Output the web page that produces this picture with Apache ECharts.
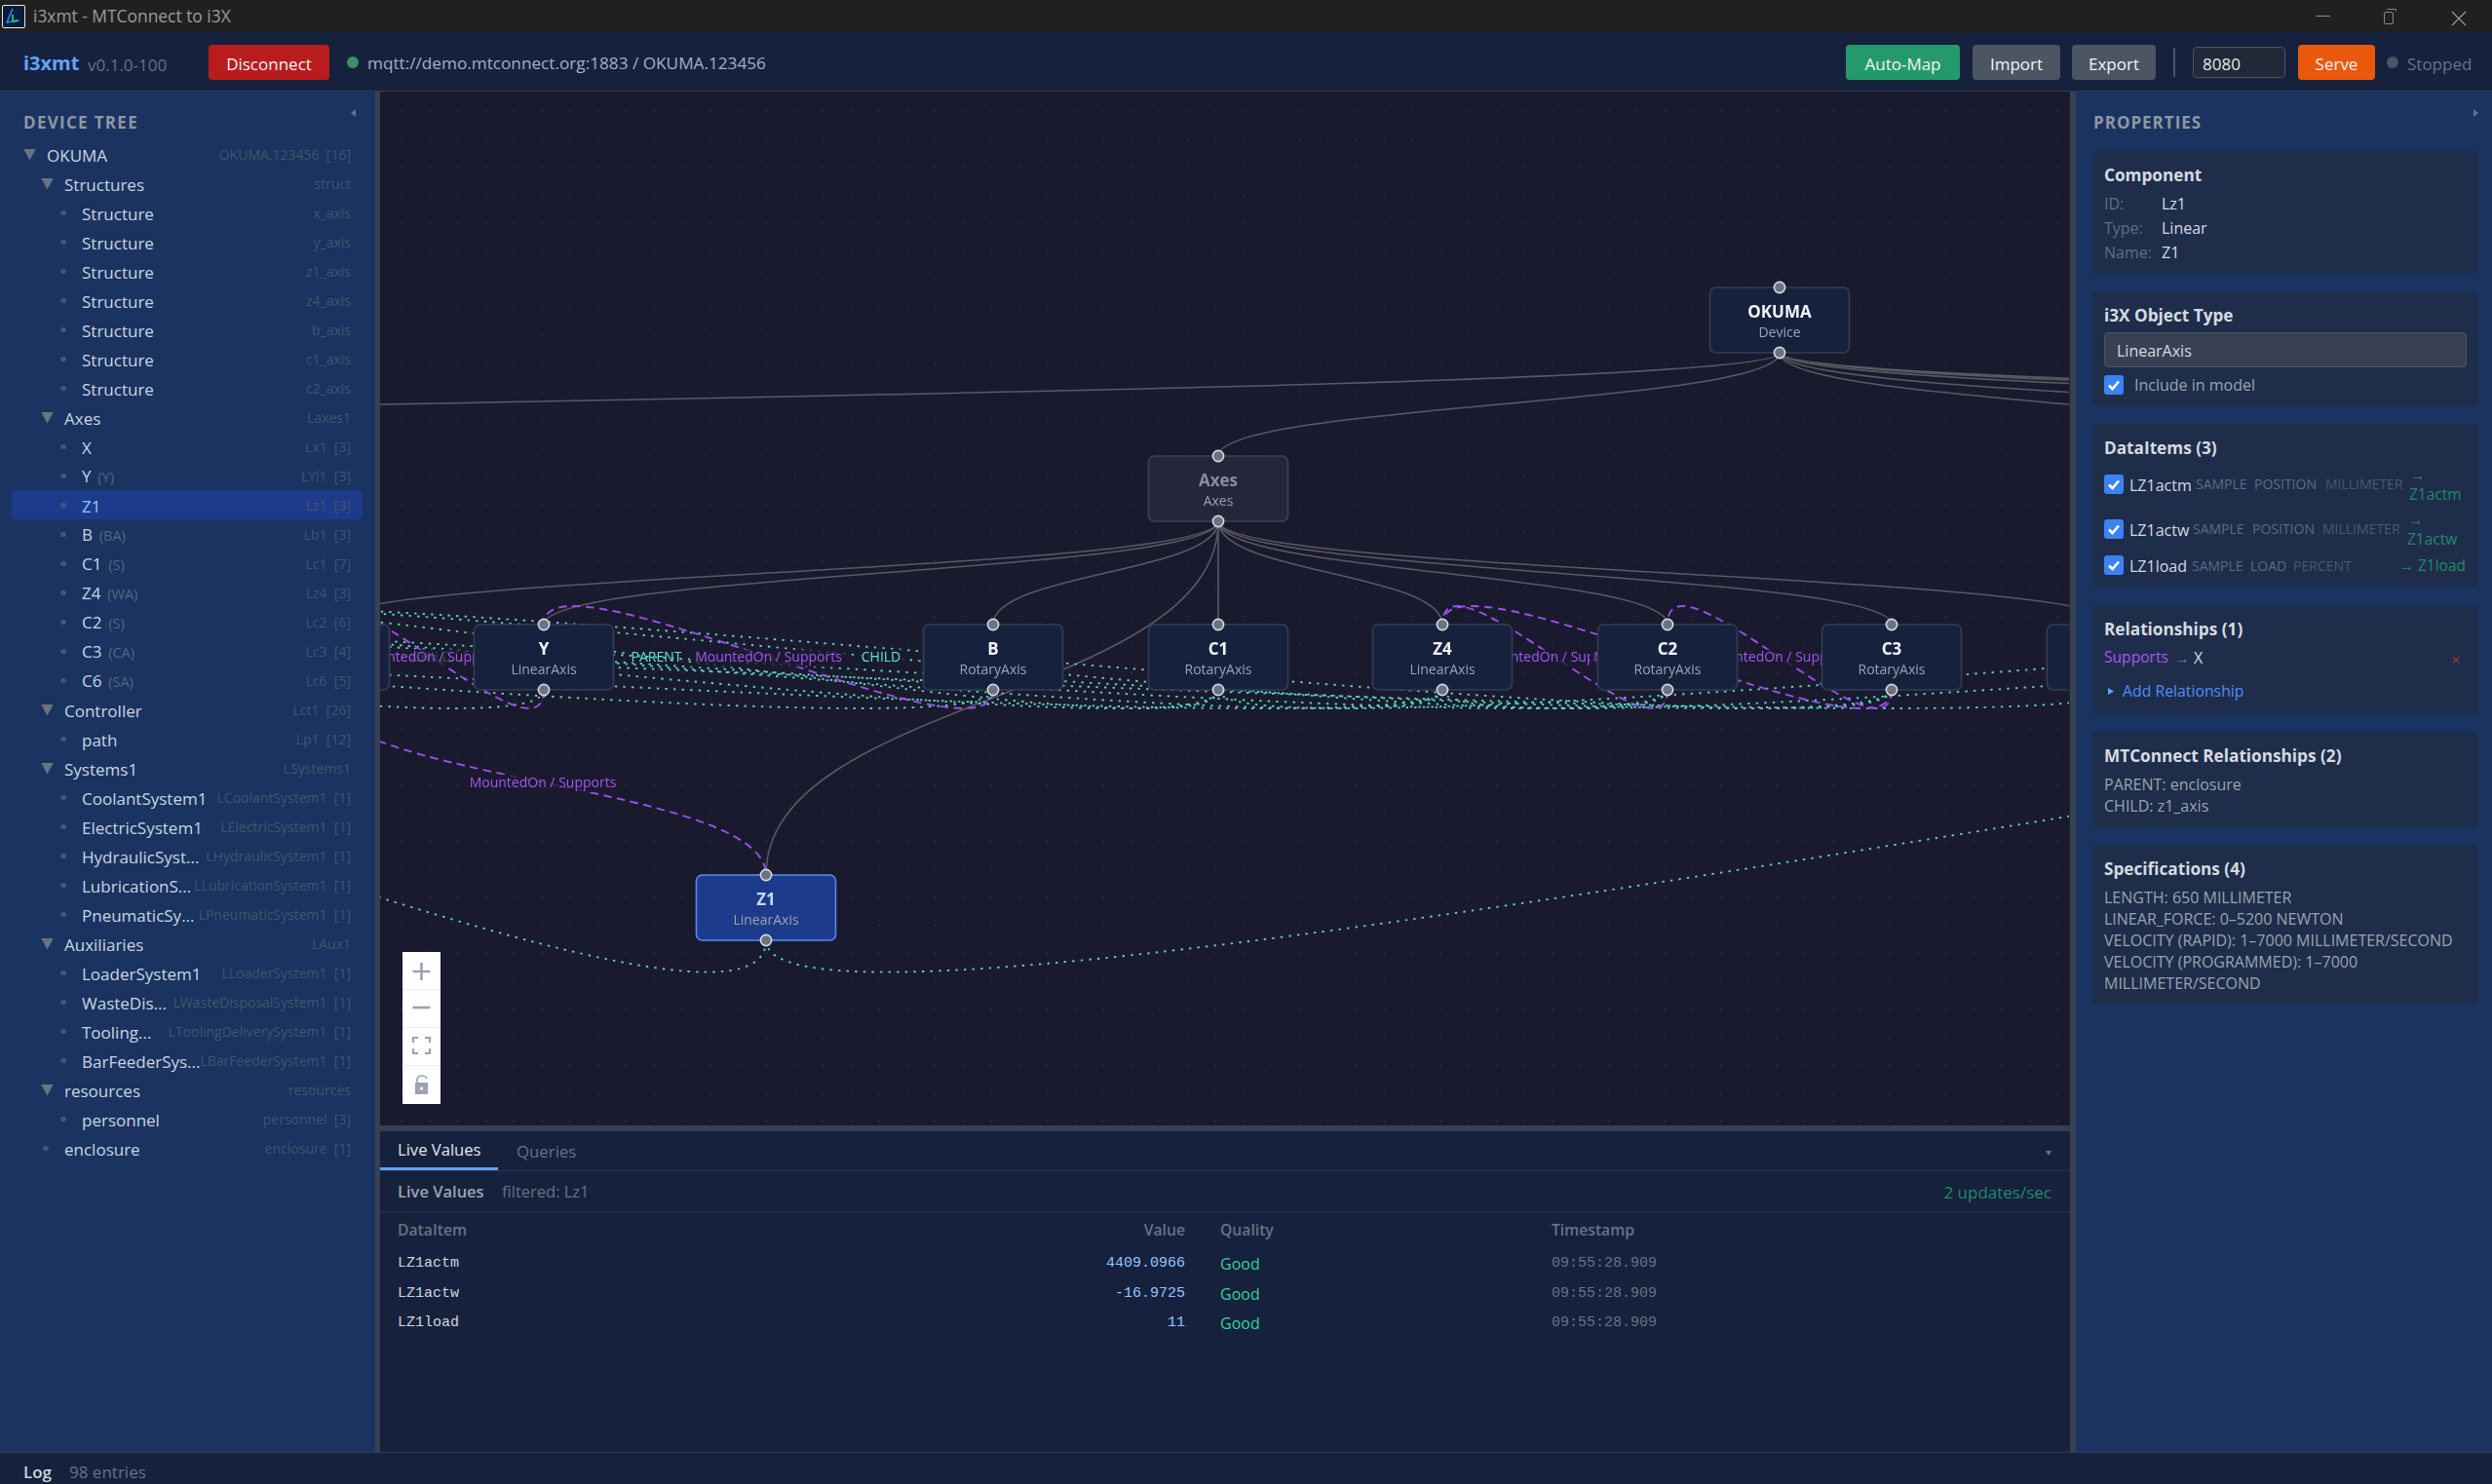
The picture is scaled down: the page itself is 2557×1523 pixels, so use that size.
<!DOCTYPE html>
<html>

<head>
    <meta charset="utf-8" />
    <title>i3xmt - MTConnect to i3X</title>
    <script src="https://cdn.jsdelivr.net/npm/echarts@6/dist/echarts.min.js"></script>
    <style>
        html, body { margin: 0; padding: 0; width: 2557px; height: 1523px; overflow: hidden; background: #16213e;
            font-family: "Open Sans", "Noto Sans", sans-serif; font-size: 17px; color: #d1d5db; }
        .box { position: absolute; box-sizing: border-box; }
        .t { position: absolute; white-space: nowrap; line-height: 1; transform: translateY(-50%); }
        .mono { font-family: "Liberation Mono", monospace; font-size: 15px; }
        #canvas { position: absolute; left: 390px; top: 94px; width: 1733px; height: 1061px; background-color: #1a1a2e;
            background-image: radial-gradient(#26263a 1.2px, transparent 1.3px); background-size: 28.8px 28.8px;
            background-position: 8px 6px; }
        #main { width: 100%; height: 100%; }
    </style>
</head>

<body>
    <div id="ui"></div>
    <div id="canvas"><div id="main"></div></div>
    <div id="over"></div>

    <script>
        // ---- graph data, positions are in canvas pixels of the flow view
        var nodeNames = ['OKUMA', 'Axes', 'X', 'Y', 'Z1', 'B', 'C1', 'Z4', 'C2', 'C3', 'C6',
            'Structures', 'Controller', 'Systems1', 'Auxiliaries', 'resources', 'enclosure',
            'x_axis', 'y_axis', 'z1_axis', 'z4_axis', 'b_axis', 'c1_axis', 'c2_axis', 'personnel',
            'CoolantSystem1', 'ElectricSystem1', 'HydraulicSystem1'];
        var nodeTypes = ['Device', 'Axes', 'LinearAxis', 'LinearAxis', 'LinearAxis', 'RotaryAxis', 'RotaryAxis', 'LinearAxis',
            'RotaryAxis', 'RotaryAxis', 'RotaryAxis',
            'Structures', 'Controller', 'Systems', 'Auxiliaries', 'Resources', 'Enclosure',
            'Structure', 'Structure', 'Structure', 'Structure', 'Structure', 'Structure', 'Structure', 'Personnel',
            'CoolantSystem', 'ElectricSystem', 'HydraulicSystem'];
        var nodeX = [1826, 1250, 328, 558, 786, 1019, 1250, 1480, 1711, 1941, 2172,
            -1046, 2420, 2886, 3730, 4300, 4680,
            97, -364, -594, -842, -1048, -1362, -1399, -718,
            3250, 3540, 3880];
        var nodeTop = [295, 468, 641, 641, 898, 641, 641, 641, 641, 641, 641,
            468, 468, 468, 468, 468, 468,
            641, 641, 641, 641, 641, 641, 641, 641,
            641, 641, 641];

        var treeEdges = [['OKUMA', 'Axes'], ['OKUMA', 'Structures'], ['OKUMA', 'Controller'], ['OKUMA', 'Systems1'],
            ['OKUMA', 'Auxiliaries'], ['OKUMA', 'resources'], ['OKUMA', 'enclosure'],
            ['Axes', 'X'], ['Axes', 'Y'], ['Axes', 'Z1'], ['Axes', 'B'], ['Axes', 'C1'], ['Axes', 'Z4'],
            ['Axes', 'C2'], ['Axes', 'C3'], ['Axes', 'C6']];
        var mtEdges = [['C3', 'x_axis'], ['C2', 'x_axis'], ['C1', 'x_axis'], ['C3', 'z1_axis'], ['C2', 'z1_axis'],
            ['Z4', 'y_axis'], ['C1', 'y_axis'], ['C6', 'c2_axis'], ['Z4', 'c1_axis'], ['B', 'b_axis'], ['Y', 'z4_axis'],
            ['C1', 'CoolantSystem1'], ['Z4', 'ElectricSystem1'],
            ['Z1', 'personnel'], ['Z1', 'HydraulicSystem1']];
        var mtLabels = ['', 'CHILD', 'PARENT', '', '', '', 'CHILD', '', '', '', '', '', '', '', ''];
        var mountEdges = [['B', 'Y'], ['Y', 'X'], ['X', 'Z1'], ['C2', 'Z4'], ['C3', 'Z4'], ['C3', 'C2']];
        var mountLabel = 'MountedOn / Supports';

        // ---- side panels
        var treeNames = ['OKUMA', 'Structures', 'Structure', 'Structure', 'Structure', 'Structure', 'Structure', 'Structure', 'Structure',
            'Axes', 'X', 'Y', 'Z1', 'B', 'C1', 'Z4', 'C2', 'C3', 'C6', 'Controller', 'path', 'Systems1',
            'CoolantSystem1', 'ElectricSystem1', 'HydraulicSyst...', 'LubricationS...', 'PneumaticSy...',
            'Auxiliaries', 'LoaderSystem1', 'WasteDis...', 'Tooling...', 'BarFeederSys...', 'resources', 'personnel', 'enclosure'];
        var treeHints = ['', '', '', '', '', '', '', '', '', '', '', '(Y)', '', '(BA)', '(S)', '(WA)', '(S)', '(CA)', '(SA)',
            '', '', '', '', '', '', '', '', '', '', '', '', '', '', '', ''];
        var treeIds = ['OKUMA.123456  [16]', 'struct', 'x_axis', 'y_axis', 'z1_axis', 'z4_axis', 'b_axis', 'c1_axis', 'c2_axis',
            'Laxes1', 'Lx1  [3]', 'LYl1  [3]', 'Lz1  [3]', 'Lb1  [3]', 'Lc1  [7]', 'Lz4  [3]', 'Lc2  [6]', 'Lc3  [4]', 'Lc6  [5]',
            'Lct1  [26]', 'Lp1  [12]', 'LSystems1', 'LCoolantSystem1  [1]', 'LElectricSystem1  [1]', 'LHydraulicSystem1  [1]',
            'LLubricationSystem1  [1]', 'LPneumaticSystem1  [1]', 'LAux1', 'LLoaderSystem1  [1]', 'LWasteDisposalSystem1  [1]',
            'LToolingDeliverySystem1  [1]', 'LBarFeederSystem1  [1]', 'resources', 'personnel  [3]', 'enclosure  [1]'];
        var treeDepth = [0, 1, 2, 2, 2, 2, 2, 2, 2, 1, 2, 2, 2, 2, 2, 2, 2, 2, 2, 1, 2, 1, 2, 2, 2, 2, 2, 1, 2, 2, 2, 2, 1, 2, 1];
        var treeOpen = [1, 1, 0, 0, 0, 0, 0, 0, 0, 1, 0, 0, 0, 0, 0, 0, 0, 0, 0, 1, 0, 1, 0, 0, 0, 0, 0, 1, 0, 0, 0, 0, 1, 0, 0];

        var liveItems = ['LZ1actm', 'LZ1actw', 'LZ1load'];
        var liveValues = ['4409.0966', '-16.9725', '11'];
        var liveStamps = ['09:55:28.909', '09:55:28.909', '09:55:28.909'];
        var specLines = ['LENGTH: 650 MILLIMETER', 'LINEAR_FORCE: 0–5200 NEWTON', 'VELOCITY (RAPID): 1–7000 MILLIMETER/SECOND',
            'VELOCITY (PROGRAMMED): 1–7000', 'MILLIMETER/SECOND'];

        function box(parent, x, y, w, h, css) {
            var d = document.createElement('div');
            d.className = 'box';
            d.style.cssText = 'left:' + x + 'px;top:' + y + 'px;width:' + w + 'px;height:' + h + 'px;' + (css || '');
            parent.appendChild(d);
            return d;
        }
        function txt(parent, x, y, s, css, cls) {
            var d = document.createElement('div');
            d.className = 't' + (cls ? ' ' + cls : '');
            d.style.cssText = 'left:' + x + 'px;top:' + y + 'px;' + (css || '');
            d.textContent = s;
            parent.appendChild(d);
            return d;
        }
        function txtR(parent, right, y, s, css, cls) {
            return txt(parent, 0, y, s, 'left:auto;right:' + (2557 - right) + 'px;' + (css || ''), cls);
        }

        var ui = document.getElementById('ui');

        // title bar
        box(ui, 0, 0, 2557, 33, 'background:#202020');
        box(ui, 2, 5, 24, 24, 'background:#0b1d3a;border:1.5px solid #e8e8e8;border-radius:2px')
            .innerHTML = '<svg width="21" height="21" viewBox="0 0 21 21"><path d="M10 3 L4 17 L17 15" fill="none" stroke="#2f80ed" stroke-width="1.6"/><path d="M10 9 L10 16 L15 15" fill="none" stroke="#22c58b" stroke-width="1.8"/></svg>';
        txt(ui, 34, 17, 'i3xmt - MTConnect to i3X', 'font-size:17.4px;color:#9b9b9b');
        box(ui, 2376, 16, 15, 1, 'background:#8a8a8a');
        box(ui, 2446, 12, 10, 13, 'border:1px solid #8a8a8a;border-radius:2px');
        box(ui, 2449, 9, 10, 3, 'border:1px solid #8a8a8a;border-bottom:0;border-left:0;border-radius:2px');
        box(ui, 2515, 9, 16, 16, '').innerHTML = '<svg width="16" height="16" viewBox="0 0 16 16"><path d="M1 1 L15 15 M15 1 L1 15" stroke="#a0a0a0" stroke-width="1.1"/></svg>';

        // header
        box(ui, 0, 33, 2557, 61, 'background:#16213e;border-bottom:1.5px solid #2f3b55');
        txt(ui, 24, 65, 'i3xmt', 'font-size:20px;font-weight:700;color:#60a5fa');
        txt(ui, 90, 66, 'v0.1.0-100', 'font-size:17px;color:#6b7280');
        function btn(x, w, label, bg) {
            box(ui, x, 46, w, 36, 'background:' + bg + ';border-radius:4px');
            txt(ui, x, 64.5, label, 'width:' + w + 'px;text-align:center;font-size:17px;color:#f3f4f6');
        }
        btn(214, 124, 'Disconnect', '#b91c1c');
        box(ui, 356, 58, 12, 12, 'background:#3f8f63;border-radius:50%');
        txt(ui, 377, 65, 'mqtt://demo.mtconnect.org:1883 / OKUMA.123456', 'font-size:17.2px;color:#a8b0bc');
        btn(1894, 117, 'Auto-Map', '#249a6c');
        btn(2024, 90, 'Import', '#4b5563');
        btn(2126, 86, 'Export', '#4b5563');
        box(ui, 2230, 49, 1.5, 30, 'background:#4b5563');
        box(ui, 2250, 48, 95, 32, 'background:#1f2937;border:1px solid #4b5563;border-radius:4px');
        txt(ui, 2260, 65, '8080', 'font-size:17px;color:#e5e7eb');
        btn(2358, 79, 'Serve', '#ea580c');
        box(ui, 2449, 58, 12, 12, 'background:#4b5563;border-radius:50%');
        txt(ui, 2470, 65, 'Stopped', 'font-size:17px;color:#6b7280');

        // left tree
        box(ui, 0, 94, 385, 1396, 'background:#1a3360');
        box(ui, 385, 94, 5, 1396, 'background:#374151');
        txt(ui, 24, 125, 'DEVICE TREE', 'font-size:17px;font-weight:700;color:#8f97a3;letter-spacing:1.3px');
        box(ui, 360, 112, 5, 8, 'background:#6b7280;clip-path:polygon(100% 0,100% 100%,0 50%)');
        box(ui, 12, 503, 360, 30, 'background:#1e3a8a;border-radius:4px');
        treeNames.forEach(function (name, i) {
            var y = 158.5 + 30 * i, dep = treeDepth[i];
            var x = 48 + 18 * dep;
            if (treeOpen[i]) box(ui, x - 24, y - 6, 13, 12, 'background:#6b7280;clip-path:polygon(0 0,100% 0,50% 100%)');
            else box(ui, x - 22, y - 3, 5.5, 5.5, 'background:#465670;border-radius:50%');
            var el = txt(ui, x, y, name, 'font-size:17px;color:' + (i == 12 ? '#93c5fd' : '#cbd5e1'));
            if (treeHints[i]) {
                var sp = document.createElement('span');
                sp.textContent = ' ' + treeHints[i];
                sp.style.cssText = 'font-size:14.5px;color:#56667f;margin-left:3px';
                el.appendChild(sp);
            }
            txtR(ui, 360, y, treeIds[i], 'font-size:14px;color:#44546e;white-space:pre');
        });

        // right panel
        box(ui, 2124, 94, 6, 1396, 'background:#374151');
        box(ui, 2130, 94, 427, 1396, 'background:#1a3360');
        txt(ui, 2148, 125, 'PROPERTIES', 'font-size:17px;font-weight:700;color:#8f97a3;letter-spacing:1px');
        box(ui, 2538, 112, 5, 8, 'background:#6b7280;clip-path:polygon(0 0,100% 50%,0 100%)');
        [[155, 126], [299, 118], [435, 167], [622, 111], [751, 98], [867, 164]].forEach(function (c) {
            box(ui, 2147, c[0], 396, c[1], 'background:#1e2d4a;border-radius:6px');
        });
        var H = 'font-size:17.2px;font-weight:700;color:#d6dae0';
        var L = 'font-size:16px;color:#5f6f86', V = 'font-size:16px;color:#d6dae0';
        txt(ui, 2159, 180, 'Component', H);
        [['ID:', 'Lz1', 209], ['Type:', 'Linear', 234], ['Name:', 'Z1', 259]].forEach(function (r) {
            txt(ui, 2159, r[2], r[0], L);
            txt(ui, 2218, r[2], r[1], V);
        });
        txt(ui, 2159, 324, 'i3X Object Type', H);
        box(ui, 2159, 341, 372, 36, 'background:#374151;border:1px solid #4b5563;border-radius:4px');
        txt(ui, 2172, 360, 'LinearAxis', V);
        function check(x, y) {
            box(ui, x, y, 20, 20, 'background:#3b82f6;border-radius:3px')
                .innerHTML = '<svg width="20" height="20" viewBox="0 0 20 20"><path d="M5 10.5 L8.5 14 L15 6.5" fill="none" stroke="#fff" stroke-width="2.6"/></svg>';
        }
        check(2159, 385);
        txt(ui, 2190, 395, 'Include in model', 'font-size:16px;color:#9ca3af');

        txt(ui, 2159, 460, 'DataItems (3)', H);
        var dimA = 'font-size:14px;color:#5d6c82', dimB = 'font-size:14px;color:#4b5870', grn = 'font-size:15.5px;color:#23896a';
        check(2159, 487); txt(ui, 2185, 498, 'LZ1actm', V);
        txt(ui, 2253, 497, 'SAMPLE', dimA); txt(ui, 2313, 497, 'POSITION', dimA); txt(ui, 2386, 497, 'MILLIMETER', dimB);
        txt(ui, 2473, 488, '→', grn); txt(ui, 2472, 508, 'Z1actm', grn);
        check(2159, 533); txt(ui, 2185, 544, 'LZ1actw', V);
        txt(ui, 2250, 543, 'SAMPLE', dimA); txt(ui, 2311, 543, 'POSITION', dimA); txt(ui, 2383, 543, 'MILLIMETER', dimB);
        txt(ui, 2471, 534, '→', grn); txt(ui, 2470, 554, 'Z1actw', grn);
        check(2159, 570); txt(ui, 2185, 581, 'LZ1load', V);
        txt(ui, 2249, 581, 'SAMPLE', dimA); txt(ui, 2309, 581, 'LOAD', dimA); txt(ui, 2353, 581, 'PERCENT', dimB);
        txtR(ui, 2530, 581, '→ Z1load', grn);

        txt(ui, 2159, 646, 'Relationships (1)', H);
        txt(ui, 2159, 675, 'Supports', 'font-size:15.6px;color:#a855f7');
        txt(ui, 2231, 675, '→', 'font-size:16px;color:#6b7280');
        txt(ui, 2251, 675, 'X', V);
        txt(ui, 2515, 676, '×', 'font-size:17px;color:#a8333f');
        box(ui, 2163, 706, 6, 7, 'background:#60a5fa;clip-path:polygon(0 0,100% 50%,0 100%)');
        txt(ui, 2178, 710, 'Add Relationship', 'font-size:15.8px;color:#4f8ef7');

        txt(ui, 2159, 776, 'MTConnect Relationships (2)', H);
        txt(ui, 2159, 805, 'PARENT: enclosure', 'font-size:16px;color:#9ca3af');
        txt(ui, 2159, 827, 'CHILD: z1_axis', 'font-size:16px;color:#9ca3af');
        txt(ui, 2159, 892, 'Specifications (4)', H);
        specLines.forEach(function (s, i) {
            txt(ui, 2159, 921 + 22 * i, s, 'font-size:16px;color:#9ca3af');
        });

        // bottom panel
        box(ui, 390, 1155, 1734, 6, 'background:#374151');
        box(ui, 390, 1161, 1734, 329, 'background:#16213e');
        box(ui, 390, 1200.5, 1734, 1, 'background:#263250');
        box(ui, 390, 1198, 121, 3, 'background:#60a5fa');
        txt(ui, 408, 1180, 'Live Values', 'font-size:16.6px;color:#e5e7eb');
        txt(ui, 530, 1182, 'Queries', 'font-size:16.8px;color:#6b7280');
        box(ui, 2099, 1181, 6, 5, 'background:#6b7280;clip-path:polygon(0 0,100% 0,50% 100%)');
        txt(ui, 408, 1223, 'Live Values', 'font-size:16.5px;font-weight:600;color:#9ca3af');
        txt(ui, 515, 1223, 'filtered: Lz1', 'font-size:16.5px;color:#6b7280');
        txtR(ui, 2105, 1223, '2 updates/sec', 'font-size:17px;color:#23896a');
        box(ui, 390, 1243, 1734, 1, 'background:#263250');
        var TH = 'font-size:15.7px;font-weight:600;color:#6b7280';
        txt(ui, 408, 1263, 'DataItem', TH);
        txtR(ui, 1216, 1263, 'Value', TH);
        txt(ui, 1252, 1263, 'Quality', TH);
        txt(ui, 1592, 1263, 'Timestamp', TH);
        var rowY = [1296, 1327, 1357];
        liveItems.forEach(function (name, i) {
            txt(ui, 408, rowY[i], name, 'color:#d1d5db', 'mono');
            txtR(ui, 1216, rowY[i], liveValues[i], 'color:#93c5fd', 'mono');
            txt(ui, 1252, rowY[i] + 1, 'Good', 'font-size:16px;color:#34d399');
            txt(ui, 1592, rowY[i], liveStamps[i], 'color:#6b7280', 'mono');
        });

        // log bar
        box(ui, 0, 1490, 2557, 33, 'background:#16213e;border-top:1.5px solid #2f3b55');
        txt(ui, 24, 1510, 'Log', 'font-size:17px;font-weight:600;color:#d1d5db');
        txt(ui, 71, 1510, '98 entries', 'font-size:17px;color:#6b7280');

        // flow controls
        var over = document.getElementById('over');
        box(over, 413, 977, 39, 156, 'background:#fff');
        box(over, 413, 1015, 39, 1, 'background:#eee');
        box(over, 413, 1054, 39, 1, 'background:#eee');
        box(over, 413, 1093, 39, 1, 'background:#eee');
        box(over, 413, 977, 39, 156, '').innerHTML = '<svg width="39" height="156" viewBox="0 0 39 156">' +
            '<path d="M19.5 11 V29 M10.5 20 H28.5" stroke="#9ca3af" stroke-width="2.6"/>' +
            '<path d="M10.5 57 H28.5" stroke="#9ca3af" stroke-width="2.6"/>' +
            '<path d="M11 93 V88 H16 M23 88 H28 V93 M28 99 V104 H23 M16 104 H11 V99" fill="none" stroke="#9ca3af" stroke-width="2.2"/>' +
            '<path d="M13 134 H26 V146 H13 Z" fill="#9ca3af"/><path d="M15 134 V130 Q16 127 20 127 Q24 127 25 130" fill="none" stroke="#9ca3af" stroke-width="1.6"/>' +
            '<circle cx="19.5" cy="140" r="1.6" fill="#fff"/></svg>';

        // ---- the flow graph
        var NODE_W = 143, NODE_H = 67;
        var FONT = '"Open Sans", "Noto Sans", sans-serif';

        function nodeIndex(name) { return nodeNames.indexOf(name); }

        function edgeRows(list, kind, labels) {
            return list.map(function (e, i) {
                return [nodeIndex(e[0]), nodeIndex(e[1]), kind, labels ? labels[i] : ''];
            });
        }
        var edgeData = edgeRows(treeEdges, 'tree')
            .concat(edgeRows(mtEdges, 'mt', mtLabels))
            .concat(edgeRows(mountEdges, 'mount', mountEdges.map(function () { return mountLabel; })));
        var nodeData = nodeNames.map(function (n, i) {
            return [nodeX[i], nodeTop[i], n, nodeTypes[i]];
        });

        var edgeStyle = {
            tree: { stroke: '#5a5a62', lineWidth: 1.6, fill: null },
            mt: { stroke: '#5cd2bf', lineWidth: 1.9, lineDash: [2.4, 6.2], fill: null },
            mount: { stroke: '#9d4eed', lineWidth: 1.9, lineDash: [8.5, 5.5], fill: null }
        };
        var labelColor = { mt: '#5eead4', mount: '#a855f7' };

        function renderEdge(params, api) {
            var from = api.value(0), to = api.value(1);
            var kind = edgeData[params.dataIndex][2], label = edgeData[params.dataIndex][3];
            var sx = nodeX[from], sy = nodeTop[from] + NODE_H, tx = nodeX[to], ty = nodeTop[to];
            var d = ty - sy;
            var off = d >= 0 ? 0.5 * d : 10.5 * Math.sqrt(-d);
            var p0 = api.coord([sx, sy]), p1 = api.coord([sx, sy + off]), p2 = api.coord([tx, ty - off]), p3 = api.coord([tx, ty]);
            var children = [{
                type: 'bezierCurve',
                shape: { x1: p0[0], y1: p0[1], cpx1: p1[0], cpy1: p1[1], cpx2: p2[0], cpy2: p2[1], x2: p3[0], y2: p3[1] },
                style: edgeStyle[kind]
            }];
            if (label) {
                var m = api.coord([(sx + tx) / 2, (sy + ty) / 2 + 1]);
                children.push({
                    type: 'text',
                    style: {
                        x: m[0], y: m[1], text: label, align: 'center', verticalAlign: 'middle',
                        font: '14px ' + FONT, fill: labelColor[kind],
                        backgroundColor: 'rgba(26,26,46,0.8)', padding: [2, 4]
                    }
                });
            }
            return { type: 'group', children: children };
        }

        function renderNode(params, api) {
            var x = api.value(0), top = api.value(1);
            var row = nodeData[params.dataIndex];
            var tl = api.coord([x - NODE_W / 2, top]), br = api.coord([x + NODE_W / 2, top + NODE_H]);
            var cx = (tl[0] + br[0]) / 2;
            var selected = row[2] == 'Z1', muted = row[2] == 'Axes';
            var fill = selected ? '#1e3a8a' : muted ? '#24263a' : '#16213e';
            var stroke = selected ? '#4f8ef7' : muted ? '#3d4252' : '#343e52';
            var titleColor = selected ? '#bfdbfe' : muted ? '#8b8f9a' : '#f3f4f6';
            var handle = { fill: '#6b7280', stroke: '#d8dbe0', lineWidth: 1.6 };
            return {
                type: 'group',
                children: [
                    {
                        type: 'rect',
                        shape: { x: tl[0], y: tl[1], width: br[0] - tl[0], height: br[1] - tl[1], r: 6 },
                        style: { fill: fill, stroke: stroke, lineWidth: 1.6 }
                    },
                    {
                        type: 'text',
                        style: { x: cx, y: tl[1] + 26, text: row[2], align: 'center', verticalAlign: 'middle',
                            font: 'bold 17px ' + FONT, fill: titleColor }
                    },
                    {
                        type: 'text',
                        style: { x: cx, y: tl[1] + 47.5, text: row[3], align: 'center', verticalAlign: 'middle',
                            font: '14px ' + FONT, fill: '#9ca3af' }
                    },
                    { type: 'circle', shape: { cx: cx, cy: tl[1], r: 5.6 }, style: handle },
                    { type: 'circle', shape: { cx: cx, cy: br[1], r: 5.6 }, style: handle }
                ]
            };
        }

        var myChart = echarts.init(document.getElementById('main'));
        var option = {
            animation: false,
            backgroundColor: 'transparent',
            grid: { left: 0, right: 0, top: 0, bottom: 0 },
            xAxis: { type: 'value', min: 390, max: 2123, show: false },
            yAxis: { type: 'value', min: 94, max: 1155, inverse: true, show: false },
            series: [
                {
                    name: 'edges',
                    type: 'custom',
                    coordinateSystem: 'cartesian2d',
                    silent: true,
                    clip: true,
                    renderItem: renderEdge,
                    encode: { x: 0, y: 1 },
                    data: edgeData
                },
                {
                    name: 'nodes',
                    type: 'custom',
                    coordinateSystem: 'cartesian2d',
                    silent: true,
                    clip: true,
                    renderItem: renderNode,
                    encode: { x: 0, y: 1 },
                    data: nodeData
                }
            ]
        };
        myChart.setOption(option);
    </script>
</body>

</html>
